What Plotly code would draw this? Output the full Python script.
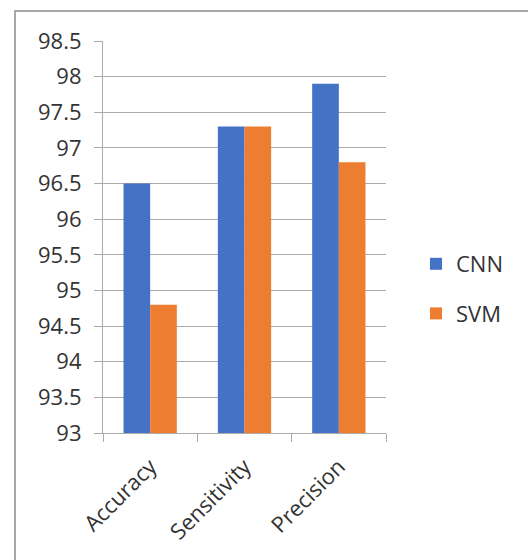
import plotly.graph_objects as go

categories = ["Accuracy", "Sensitivity", "Precision"]
cnn_values = [96.5, 97.3, 97.9]
svm_values = [94.8, 97.3, 96.8]
series_names = ["CNN", "SVM"]
y_ticks = [93, 93.5, 94, 94.5, 95, 95.5, 96, 96.5, 97, 97.5, 98, 98.5]

W, H = 528, 560
L, R, T, B = 103, 386, 41, 433

fig = go.Figure()
fig.add_trace(go.Bar(x=categories, y=cnn_values, name=series_names[0], legendgroup="a",
                     marker=dict(color="#4472C4", line=dict(width=0))))
fig.add_trace(go.Bar(x=categories, y=svm_values, name=series_names[1], legendgroup="b",
                     marker=dict(color="#ED7D31", line=dict(width=0))))

grid = "#ababab"
font = dict(family="Open Sans, Segoe UI, sans-serif", size=22, color="#333333")

pw = R - L
ph = B - T

def px_x(x):
    return (x - L) / pw

def px_y(y):
    return (B - y) / ph

fig.update_layout(
    width=W, height=H,
    margin=dict(l=L, r=W - R, t=T, b=H - B, autoexpand=False),
    plot_bgcolor="white", paper_bgcolor="white",
    font=font,
    barmode="group", bargap=0.435, bargroupgap=0,
    showlegend=True,
    legend=dict(x=px_x(416), y=px_y(289), xanchor="left", yanchor="middle",
                font=dict(size=22), tracegroupgap=18, itemwidth=30,
                traceorder="grouped",
                bgcolor="rgba(0,0,0,0)"),
    xaxis=dict(type="category", showline=True, linecolor=grid, linewidth=1.2,
               ticks="outside", ticklen=8, tickcolor=grid, tickwidth=1.2,
               tickson="boundaries", tickangle=-45, showgrid=False,
               ticklabelstandoff=11,
               tickfont=dict(size=22)),
    yaxis=dict(range=[93, 98.5], tickvals=y_ticks, showgrid=True,
               gridcolor=grid, gridwidth=1.2, zeroline=False,
               showline=True, linecolor=grid, linewidth=1.2,
               ticks="outside", ticklen=8, tickcolor=grid, tickwidth=1.2,
               ticklabelstandoff=8, tickfont=dict(size=22)),
    shapes=[dict(type="rect", xref="paper", yref="paper",
                 x0=px_x(15), x1=px_x(560), y0=px_y(600), y1=px_y(11),
                 line=dict(color="#8c8c8c", width=1.5), layer="below")],
)

fig.write_html("out.html")
